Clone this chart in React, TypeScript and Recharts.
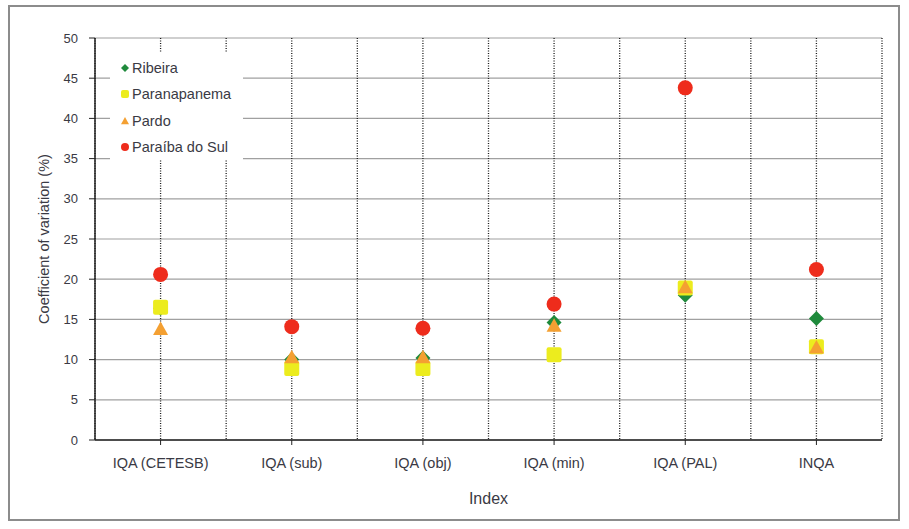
import { CartesianGrid, ComposedChart, Label, Legend, Scatter, XAxis, YAxis } from "recharts";

const indexNames = ["IQA (CETESB)", "IQA (sub)", "IQA (obj)", "IQA (min)", "IQA (PAL)", "INQA"];
const ribeira = [16.4, 10.0, 10.2, 14.6, 18.0, 15.1];
const paranapanema = [16.5, 8.9, 8.9, 10.6, 18.9, 11.6];
const pardo = [13.8, 10.3, 10.3, 14.2, 19.0, 11.5];
const paraibaDoSul = [20.6, 14.1, 13.9, 16.9, 43.8, 21.2];
const yTicks = [0, 5, 10, 15, 20, 25, 30, 35, 40, 45, 50];
// vertical gridlines at every half category (centres and band edges)
const gridSteps = [0, 1, 2, 3, 4, 5, 6, 7, 8, 9, 10, 11, 12];

const data = indexNames.map((name, i) => ({
  name,
  ribeira: ribeira[i],
  paranapanema: paranapanema[i],
  pardo: pardo[i],
  paraiba: paraibaDoSul[i],
}));

const colors = {
  ribeira: "#1f8a3c",
  paranapanema: "#ecec1e",
  pardo: "#f4a032",
  paraiba: "#ee2c1c",
};

const textColor = "#3a3a44";

const series = [
  { key: "ribeira", name: "Ribeira", color: colors.ribeira, symbol: "diamond" },
  { key: "paranapanema", name: "Paranapanema", color: colors.paranapanema, symbol: "square" },
  { key: "pardo", name: "Pardo", color: colors.pardo, symbol: "triangle" },
  { key: "paraiba", name: "Paraíba do Sul", color: colors.paraiba, symbol: "circle" },
];

function Marker({ cx, cy, symbol, color, r }: { cx: number; cy: number; symbol: string; color: string; r: number }) {
  if (symbol === "diamond")
    return <polygon points={`${cx},${cy - r} ${cx + r},${cy} ${cx},${cy + r} ${cx - r},${cy}`} fill={color} />;
  if (symbol === "square") return <rect x={cx - r} y={cy - r} width={r * 2} height={r * 2} rx={2} fill={color} />;
  if (symbol === "triangle")
    return <polygon points={`${cx},${cy - r} ${cx + r},${cy + r * 0.8} ${cx - r},${cy + r * 0.8}`} fill={color} />;
  return <circle cx={cx} cy={cy} r={r} fill={color} />;
}

function LegendBox() {
  return (
    <div style={{ background: "#fff", width: 133, height: 107, boxSizing: "border-box", paddingTop: 2 }}>
      {series.map((s) => (
        <div key={s.key} style={{ display: "flex", alignItems: "center", height: 26.3, fontSize: 14.5, color: textColor }}>
          <svg width={14} height={12} style={{ marginLeft: 8 }}>
            <Marker cx={7} cy={6} symbol={s.symbol} color={s.color} r={4} />
          </svg>
          <span style={{ marginLeft: 0 }}>{s.name}</span>
        </div>
      ))}
    </div>
  );
}

export default function App() {
  return (
    <div style={{ position: "fixed", left: 0, top: 0, width: 909, height: 529, background: "#fff", fontFamily: "'Liberation Sans', Arial, sans-serif" }}>
      <div style={{ position: "absolute", left: 8, top: 5, width: 892, height: 516, boxSizing: "border-box", border: "2px solid #8c8c8c" }} />
      <ComposedChart width={909} height={529} data={data} margin={{ top: 38, right: 27, bottom: 0, left: 0 }}>
        <CartesianGrid vertical={false} stroke="#a0a0a0" strokeWidth={1.2} />
        <CartesianGrid
          horizontal={false}
          stroke="#1a1a1a"
          strokeWidth={1.3}
          strokeDasharray="1 1.5"
          verticalCoordinatesGenerator={({ offset }: any) =>
            gridSteps.map((s) => offset.left + (s / (gridSteps.length - 1)) * offset.width)
          }
        />
        <XAxis
          dataKey="name"
          type="category"
          scale="band"
          height={89}
          tick={{ fill: textColor, fontSize: 14.5 }}
          axisLine={{ stroke: "#222", strokeWidth: 1.5 }}
          tickLine={{ stroke: "#222" }}
          tickSize={5}
          tickMargin={13}
        >
          <Label value="Index" position="insideBottom" offset={25} style={{ fill: textColor, fontSize: 16 }} />
        </XAxis>
        <YAxis
          type="number"
          domain={[0, 50]}
          ticks={yTicks}
          width={95}
          tick={{ fill: textColor, fontSize: 13 }}
          axisLine={{ stroke: "#222", strokeWidth: 1.5 }}
          tickLine={{ stroke: "#222" }}
          tickSize={6}
          tickMargin={11}
        >
          <Label value="Coefficient of variation (%)" angle={-90} position="center" dx={-4} style={{ fill: textColor, fontSize: 14.5, textAnchor: "middle" }} />
        </YAxis>
        <Legend
          layout="vertical"
          align="center"
          verticalAlign="middle"
          content={() => <LegendBox />}
          wrapperStyle={{ position: "absolute", left: 110, top: 53, width: 133, height: 107 }}
        />
        {series.map((s) => (
          <Scatter
            key={s.key}
            dataKey={s.key}
            name={s.name}
            fill={s.color}
            isAnimationActive={false}
            shape={(p: any) => <Marker cx={p.cx} cy={p.cy} symbol={s.symbol} color={s.color} r={7.5} />}
          />
        ))}
      </ComposedChart>
    </div>
  );
}
